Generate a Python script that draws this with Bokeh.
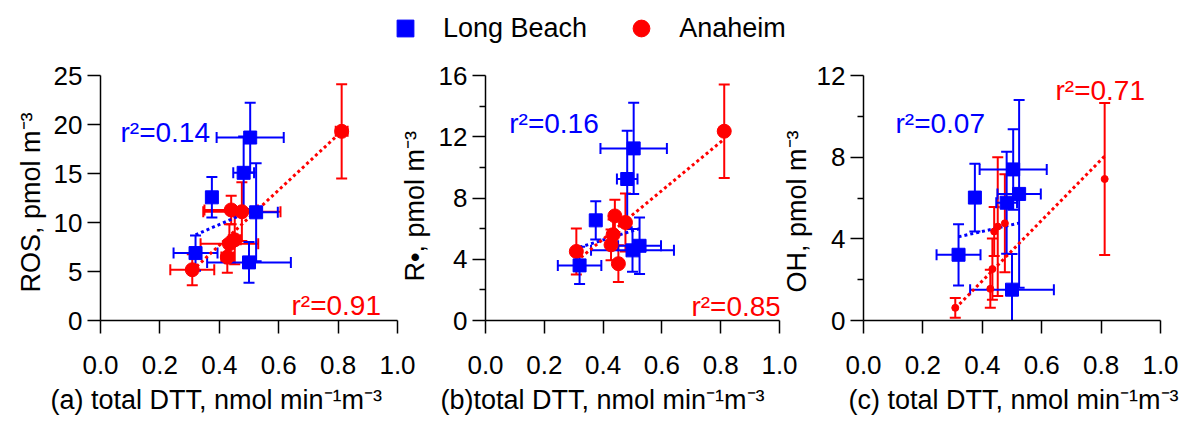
from bokeh.plotting import figure
from bokeh.models import (Range1d, FixedTicker, NumeralTickFormatter, Whisker, TeeHead,
                          ColumnDataSource, Label, Legend, LegendItem, Title)
from bokeh.layouts import column, row
from bokeh.embed import file_html
from bokeh.resources import INLINE

# ---------------- data ----------------
SERIES = ["Long Beach", "Anaheim"]
X_TICKS = [0.0, 0.2, 0.4, 0.6, 0.8, 1.0]

DTT_LB = [0.320, 0.375, 0.482, 0.500, 0.504, 0.524]
DTT_LB_ERR = [0.074, 0.010, 0.035, 0.141, 0.113, 0.073]
DTT_AN = [0.309, 0.427, 0.434, 0.440, 0.452, 0.476, 0.812]
DTT_AN_ERR = [0.074, 0.020, 0.097, 0.090, 0.020, 0.130, 0.020]   # shown in panel (a) only

ROS_LB = [6.88, 12.57, 15.07, 5.93, 18.67, 11.04]
ROS_LB_ERR = [1.80, 2.07, 3.70, 2.08, 3.56, 5.00]
ROS_AN = [5.18, 6.47, 7.83, 11.28, 8.23, 11.10, 19.30]
ROS_AN_ERR = [1.58, 1.60, 2.00, 1.45, 2.50, 3.00, 4.80]

R_LB = [3.60, 6.54, 9.24, 4.58, 11.24, 4.88]
R_LB_ERR = [1.21, 1.25, 3.15, 1.40, 2.98, 1.85]
R_AN = [4.51, 4.94, 5.60, 6.83, 3.71, 6.40, 12.36]
R_AN_ERR = [1.50, 1.00, 1.00, 1.05, 1.20, 1.90, 3.05]

OH_LB = [3.22, 6.02, 5.77, 1.51, 7.40, 6.20]
OH_LB_ERR = [1.50, 1.66, 2.50, 1.75, 1.97, 4.60]
OH_AN = [0.62, 1.55, 2.52, 4.36, 4.60, 4.76, 6.93]
OH_AN_ERR = [0.48, 0.93, 1.50, 1.20, 3.40, 2.40, 3.72]

FIT_X_LB = [0.320, 0.524]
FIT_X_AN = [0.309, 0.812]
FIT_ROS_LB = [8.74, 11.43]
FIT_ROS_AN = [5.10, 19.30]
FIT_R_LB = [4.78, 6.00]
FIT_R_AN = [3.87, 11.85]
FIT_OH_LB = [4.10, 4.77]
FIT_OH_AN = [0.59, 8.05]

R2_ROS = ["r\u00b2=0.14", "r\u00b2=0.91"]
R2_R = ["r\u00b2=0.16", "r\u00b2=0.85"]
R2_OH = ["r\u00b2=0.07", "r\u00b2=0.71"]

Y_LABELS = ["ROS, pmol m\u207b\u00b3", "R\u2022, pmol m\u207b\u00b3", "OH, pmol m\u207b\u00b3"]
X_LABELS = ["(a) total DTT, nmol min\u207b\u00b9m\u207b\u00b3",
            "(b)total DTT, nmol min\u207b\u00b9m\u207b\u00b3",
            "(c) total DTT, nmol min\u207b\u00b9m\u207b\u00b3"]

# ---------------- style / layout ----------------
FONT = "Liberation Sans"
BLUE = "#0000FF"
RED = "#FF0000"
LEG_H = 52
FIG_H = 369
B_TOP, B_BOT = 23, 100
FRAME_W, FRAME_H = 297, 246
FRAME_TOP_WIN = LEG_H + B_TOP
FRAME_BOT_WIN = FRAME_TOP_WIN + FRAME_H


def whiskers(p, base, center, err, color, dimension):
    src = ColumnDataSource(dict(
        base=base,
        lo=[c - e for c, e in zip(center, err)],
        hi=[c + e for c, e in zip(center, err)],
    ))
    w = Whisker(source=src, base="base", lower="lo", upper="hi", dimension=dimension,
                line_color=color, line_width=2,
                upper_head=TeeHead(size=11, line_color=color, line_width=2),
                lower_head=TeeHead(size=11, line_color=color, line_width=2))
    p.add_layout(w)


def panel(width, left, right, frame_left_win, ymax, yticks, yminor,
          lb_y, lb_err, an_y, an_err, an_xerr, fit_lb, fit_an, r2, r2_pos,
          ylabel, ylab_offset, ylab_standoff, xlabel, xlab_offset, an_size, shift):
    p = figure(width=width, height=FIG_H, x_range=Range1d(0, 1), y_range=Range1d(0, ymax),
               output_backend="svg", toolbar_location=None,
               min_border_left=left, min_border_right=right,
               min_border_top=B_TOP, min_border_bottom=B_BOT)
    if shift:
        p.margin = (0, 0, 0, shift)
    p.outline_line_color = None
    p.grid.visible = False
    p.background_fill_color = "white"
    p.border_fill_alpha = 0

    p.xaxis.ticker = FixedTicker(ticks=X_TICKS)
    p.xaxis.formatter = NumeralTickFormatter(format="0.0")
    p.yaxis.ticker = FixedTicker(ticks=yticks, minor_ticks=yminor)
    for ax in p.axis:
        ax.axis_line_color = "black"
        ax.axis_line_width = 1.5
        ax.major_tick_line_color = "black"
        ax.major_tick_line_width = 1.5
        ax.minor_tick_line_color = "black"
        ax.minor_tick_line_width = 1.5
        ax.major_tick_in = 0
        ax.major_tick_out = 13
        ax.minor_tick_in = 0
        ax.minor_tick_out = 6
        ax.major_label_text_font = FONT
        ax.major_label_text_font_size = "26px"
        ax.major_label_text_color = "black"
    p.xaxis.major_label_standoff = 22
    p.yaxis.major_label_standoff = 5

    def to_data(wx, wy):
        return ((wx - frame_left_win) / FRAME_W,
                (FRAME_BOT_WIN - wy) / FRAME_H * ymax)

    # regression lines
    p.line(FIT_X_LB, fit_lb, line_color=BLUE, line_width=3, line_dash="3 3")
    p.line(FIT_X_AN, fit_an, line_color=RED, line_width=3, line_dash="3 3")

    # Anaheim
    whiskers(p, DTT_AN, an_y, an_err, RED, "height")
    if an_xerr is not None:
        whiskers(p, an_y, DTT_AN, an_xerr, RED, "width")
    p.scatter(DTT_AN, an_y, marker="circle", size=an_size, color=RED)

    # Long Beach
    whiskers(p, DTT_LB, lb_y, lb_err, BLUE, "height")
    whiskers(p, lb_y, DTT_LB, DTT_LB_ERR, BLUE, "width")
    p.scatter(DTT_LB, lb_y, marker="square", size=13, color=BLUE)

    for txt, pos, col in zip(r2, r2_pos, [BLUE, RED]):
        x, y = to_data(*pos)
        p.add_layout(Label(x=x, y=y, text=txt, text_color=col, text_font=FONT,
                           text_font_size="28px", text_align="left",
                           text_baseline="alphabetic"))

    p.add_layout(Title(text=ylabel, align="left", offset=ylab_offset, standoff=ylab_standoff,
                       text_font=FONT, text_font_size="27px", text_font_style="normal",
                       text_color="black"), "left")
    p.add_layout(Title(text=xlabel, align="left", offset=xlab_offset, standoff=13,
                       text_font=FONT, text_font_size="27px", text_font_style="normal",
                       text_color="black"), "below")
    return p


# panel geometry: fig1 0-420, fig2 392-801, fig3 773-1185 (negative margins overlap borders)
p1 = panel(420, 100, 23, 100, 25, [0, 5, 10, 15, 20, 25], [],
           ROS_LB, ROS_LB_ERR, ROS_AN, ROS_AN_ERR, DTT_AN_ERR, FIT_ROS_LB, FIT_ROS_AN,
           R2_ROS, [(120, 132), (291, 306)], Y_LABELS[0], 28, 9,
           X_LABELS[0], -50, 14, 0)
p2 = panel(409, 90, 22, 482, 16, [0, 4, 8, 12, 16], [2, 6, 10, 14],
           R_LB, R_LB_ERR, R_AN, R_AN_ERR, None, FIT_R_LB, FIT_R_AN,
           R2_R, [(506, 123), (690, 307)], Y_LABELS[1], 39, 11,
           X_LABELS[1], -45, 14, -28)
p3 = panel(412, 90, 25, 863, 12, [0, 4, 8, 12], [2, 6, 10],
           OH_LB, OH_LB_ERR, OH_AN, OH_AN_ERR, None, FIT_OH_LB, FIT_OH_AN,
           R2_OH, [(895, 123), (1055, 90)], Y_LABELS[2], 28, 4,
           X_LABELS[2], -15, 7, -28)

# legend strip (data drawn outside its visible range; only the legend shows)
leg = figure(width=1185, height=LEG_H, x_range=Range1d(10, 11), y_range=Range1d(100, 101),
             output_backend="svg", toolbar_location=None, min_border=0,
             x_axis_type=None, y_axis_type=None)
leg.outline_line_color = None
leg.grid.visible = False
r_lb = leg.scatter(DTT_LB, ROS_LB, marker="square", size=17, color=BLUE)
r_an = leg.scatter(DTT_AN, ROS_AN, marker="circle", size=17, color=RED)
legend = Legend(items=[LegendItem(label=SERIES[0], renderers=[r_lb]),
                       LegendItem(label=SERIES[1], renderers=[r_an])],
                orientation="horizontal", location=(384, 3),
                glyph_width=42, glyph_height=42, label_standoff=17, spacing=33,
                padding=0, margin=0, border_line_color=None, background_fill_alpha=0,
                label_text_font=FONT, label_text_font_size="27px", label_text_color="black")
leg.add_layout(legend)

layout = column(leg, row(p1, p2, p3, spacing=0), spacing=0)

open("out.html", "w").write(file_html(layout, INLINE))
